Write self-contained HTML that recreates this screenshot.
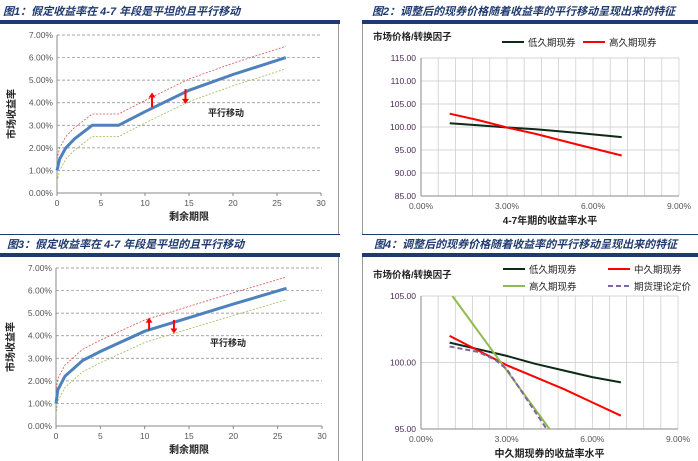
<!DOCTYPE html>
<html><head><meta charset="utf-8">
<style>
body{margin:0;background:#fff;}
svg{display:block;font-family:"Liberation Sans","Noto Sans CJK SC",sans-serif;}
.tk{font-size:9px;fill:#333;}
.ttl{font-size:11px;fill:#1f3a6e;font-style:italic;font-weight:bold;}
</style></head>
<body>
<svg id="s" width="698" height="461" viewBox="0 0 698 461" xmlns="http://www.w3.org/2000/svg">
<text class="ttl" x="3" y="15">图1：假定收益率在 4-7 年段是平坦的且平行移动</text>
<rect x="0" y="20" width="340" height="4" fill="#1f3a6e"/>
<line x1="338.5" y1="24" x2="338.5" y2="235" stroke="#999"/>
<text class="ttl" x="372" y="15">图2：调整后的现券价格随着收益率的平行移动呈现出来的特征</text>
<rect x="362" y="20" width="336" height="4" fill="#1f3a6e"/>
<line x1="362.5" y1="24" x2="362.5" y2="235" stroke="#999"/>
<line x1="0" y1="234.5" x2="340" y2="234.5" stroke="#1f3a6e"/>
<line x1="362" y1="234.5" x2="698" y2="234.5" stroke="#1f3a6e"/>
<text class="ttl" x="7" y="248">图3：假定收益率在 4-7 年段是平坦的且平行移动</text>
<rect x="0" y="253" width="340" height="4" fill="#1f3a6e"/>
<line x1="338.5" y1="257" x2="338.5" y2="461" stroke="#999"/>
<text class="ttl" x="374" y="248">图4：调整后的现券价格随着收益率的平行移动呈现出来的特征</text>
<rect x="362" y="253" width="336" height="4" fill="#1f3a6e"/>
<line x1="362.5" y1="257" x2="362.5" y2="461" stroke="#999"/>
</svg>
<script>
// ---- data ----
var yieldTicks=["0.00%","1.00%","2.00%","3.00%","4.00%","5.00%","6.00%","7.00%"];
var termTicks=["0","5","10","15","20","25","30"];
var c1Terms=[0,0.3,1,2,4,7,10,15,20,26];
var c1Yield=[1.0,1.5,2.0,2.4,3.0,3.0,3.6,4.55,5.25,6.0];
var c3Terms=[0,0.2,1,3,5,10,15,20,26];
var c3Yield=[1.0,1.6,2.2,2.9,3.3,4.2,4.8,5.4,6.1];
var shift=0.5;
var rateTicks=["0.00%","3.00%","6.00%","9.00%"];
var c2PriceTicks=["85.00","90.00","95.00","100.00","105.00","110.00","115.00"];
var c2Rates=[1,2,3,4,5.5,7];
var c2Low=[100.8,100.4,99.9,99.5,98.7,97.8];
var c2High=[102.9,101.5,99.9,98.5,96.1,93.8];
var c4PriceTicks=["95.00","100.00","105.00"];
var c4Rates=[1,2,3,4,5,6,7];
var c4Low=[101.5,101.0,100.5,99.9,99.4,98.9,98.5];
var c4Mid=[102.0,100.9,99.8,98.9,98.0,97.0,96.0];
var c4HighRates=[1.1,4.5];
var c4High=[105,95];
var c4FutRates=[1,2,2.6,3,4.4];
var c4Fut=[101.2,100.8,100.2,99.5,95];

var NS="http://www.w3.org/2000/svg",S=document.getElementById('s');
function mk(t,a,p){var e=document.createElementNS(NS,t);for(var k in a)e.setAttribute(k,a[k]);(p||S).appendChild(e);return e;}
function txt(x,y,s,anchor,size,bold){var e=mk('text',{x:x,y:y,'text-anchor':anchor||'start','font-size':size||9,fill:'#222','font-weight':bold?'bold':'normal'});e.textContent=s;return e;}
function pts(xs,ys,X,Y){return xs.map(function(v,i){return X(v).toFixed(1)+','+Y(ys[i]).toFixed(1);}).join(' ');}

function yieldChart(n,L,R,T,B,terms,yv,arrows,label){
  var X=function(v){return L+(R-L)*v/30;},Y=function(v){return B-(B-T)*v/7;};
  yieldTicks.forEach(function(t,i){var y=Y(i);
    if(i>0){var g=mk('line',{x1:L,x2:R,y1:y,y2:y,stroke:'#888','stroke-dasharray':'3,2','stroke-width':0.7});
    }
    var e=txt(L-4,y+3,t,'end',8.5);e.setAttribute('fill','#555');
    });
  termTicks.forEach(function(t){var x=X(+t);var e=txt(x,B+13,t,'middle',8.5);e.setAttribute('fill','#555');
    
    mk('line',{x1:x,x2:x,y1:B,y2:B+3,stroke:'#888'});});
  var a=mk('line',{x1:L,x2:L,y1:T,y2:B,stroke:'#888'});
  a=mk('line',{x1:L,x2:R,y1:B,y2:B,stroke:'#888'});
  var up=yv.map(function(v){return v+shift;}),dn=yv.map(function(v){return v-shift;});
  var l=mk('polyline',{points:pts(terms,up,X,Y),fill:'none',stroke:'#d9534f','stroke-width':0.8,'stroke-dasharray':'2,1.5'});
  
  l=mk('polyline',{points:pts(terms,dn,X,Y),fill:'none',stroke:'#9bbb59','stroke-width':0.8,'stroke-dasharray':'2,1.5'});
  
  l=mk('polyline',{points:pts(terms,yv,X,Y),fill:'none',stroke:'#4f81bd','stroke-width':3});
  
  arrows.forEach(function(ar){var x=X(ar[0]),y1=Y(ar[1]),y2=Y(ar[2]),d=y2<y1?-1:1;
    var g=mk('g',{});
    mk('line',{x1:x,x2:x,y1:y1,y2:y2-d*4,stroke:'red','stroke-width':2},g);
    mk('polygon',{points:(x-3.5)+','+(y2-d*5)+' '+(x+3.5)+','+(y2-d*5)+' '+x+','+y2,fill:'red'},g);});
  var t=txt(label[0],label[1],'平行移动','start',9,true);
  t=txt((L+R)/2,B+27,'剩余期限','middle',10,true);
  t=txt(0,0,'市场收益率','middle',10,true);t.setAttribute('transform','translate('+(L-42)+','+((T+B)/2)+') rotate(-90)');
  
}
yieldChart(1,57,321,35,193,c1Terms,c1Yield,[[10.8,3.8,4.45],[14.6,4.6,3.95]],[208,116]);
yieldChart(3,56,322,268,426,c3Terms,c3Yield,[[10.5,4.25,4.8],[13.3,4.7,4.1]],[210,346]);

function priceChart(n,L,R,T,B,lo,hi,pt,series,legend,xTitle){
  var X=function(v){return L+(R-L)*v/9;},Y=function(v){return B-(B-T)*(v-lo)/(hi-lo);};
  for(var i=1;i<=15;i++){var x=L+(R-L)*i/15;var g=mk('line',{x1:x,x2:x,y1:T,y2:B,stroke:'#c8c8c8','stroke-width':0.7});
    }
  pt.forEach(function(t){var y=Y(+t);var g=mk('line',{x1:L,x2:R,y1:y,y2:y,stroke:'#c8c8c8','stroke-width':0.7});
    
    var e=txt(L-5,y+3,t,'end',8.5);e.setAttribute('fill','#4a2a55');});
  rateTicks.forEach(function(t){var x=X(parseFloat(t));var e=txt(x,B+13,t,'middle',8.5);e.setAttribute('fill','#555');
    });
  var a=mk('line',{x1:L,x2:L,y1:T,y2:B,stroke:'#888'});
  a=mk('line',{x1:L,x2:R,y1:B,y2:B,stroke:'#888'});
  var clip=mk('clipPath',{id:'cp'+n});mk('rect',{x:L,y:T,width:R-L,height:B-T},clip);
  series.forEach(function(s){var l=mk('polyline',{points:pts(s.x,s.y,X,Y),fill:'none',stroke:s.c,'stroke-width':2,'clip-path':'url(#cp'+n+')'});
    if(s.d)l.setAttribute('stroke-dasharray',s.d);
    });
  legend.forEach(function(g){var s=series[g[0]];var gg=mk('g',{});
    var ln=mk('line',{x1:g[1],x2:g[1]+22,y1:g[2],y2:g[2],stroke:s.c,'stroke-width':2},gg);if(s.d)ln.setAttribute('stroke-dasharray',s.d);
    var e=txt(g[1]+26,g[2]+4,s.label,'start',9.5);gg.appendChild(e);});
  var t=txt(L-48,T-18,'市场价格/转换因子','start',9.5,true);
  t=txt((L+R)/2,B+28,xTitle,'middle',10,true);
}
priceChart(2,421,679,58,196,85,115,c2PriceTicks,
 [{x:c2Rates,y:c2Low,c:'#0d2a16',label:'低久期现券',name:'fig2-low-duration-line'},
  {x:c2Rates,y:c2High,c:'#ff0000',label:'高久期现券',name:'fig2-high-duration-line'}],
 [[0,502,42],[1,583,42]],'4-7年期的收益率水平');
priceChart(4,421,678,296,429,95,105,c4PriceTicks,
 [{x:c4Rates,y:c4Low,c:'#0d2a16',label:'低久期现券',name:'fig4-low-duration-line'},
  {x:c4Rates,y:c4Mid,c:'#ff0000',label:'中久期现券',name:'fig4-mid-duration-line'},
  {x:c4HighRates,y:c4High,c:'#8fbc50',label:'高久期现券',name:'fig4-high-duration-line'},
  {x:c4FutRates,y:c4Fut,c:'#8064a2',d:'5,3',label:'期货理论定价',name:'fig4-futures-line'}],
 [[0,503,269],[1,608,269],[2,503,286],[3,608,286]],'中久期现券的收益率水平');
</script>
</body></html>
